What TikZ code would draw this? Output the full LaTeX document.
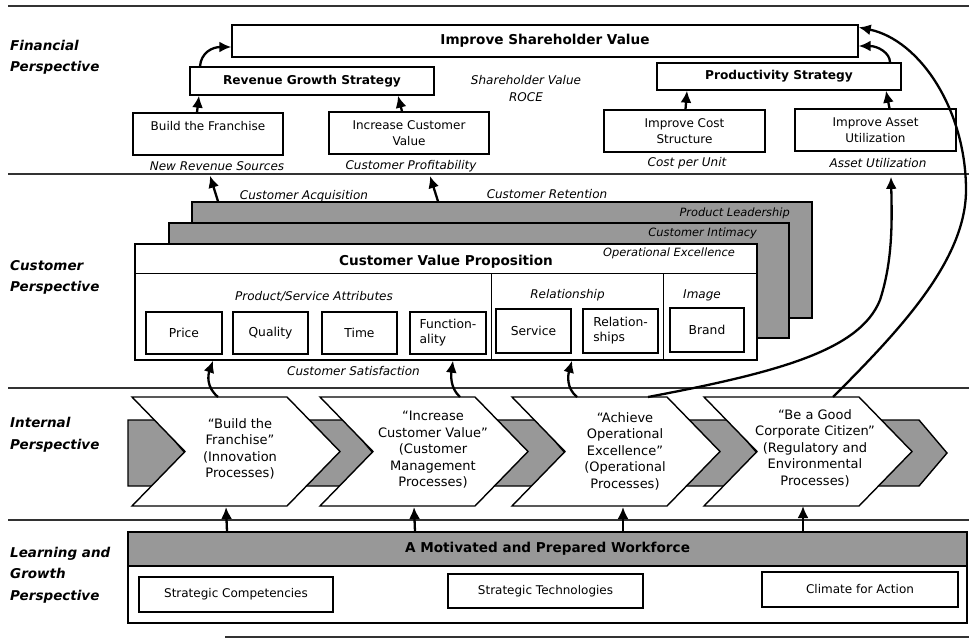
\documentclass[tikz,border=0pt]{standalone}
\usepackage{fontspec}
\setmainfont{DejaVu Sans}
\usetikzlibrary{arrows.meta,calc}
\definecolor{panelgray}{RGB}{152,152,152}
\definecolor{rulegray}{RGB}{50,50,50}
\tikzset{
  box/.style={draw=black, line width=1.4pt, fill=white, inner sep=0pt, align=center, font=\fontsize{12}{16}\selectfont},
  sbox/.style={box, font=\fontsize{12.3}{15}\selectfont},
  bbox/.style={box, font=\fontsize{12.2}{14.5}\selectfont\bfseries},
  title/.style={inner sep=0pt, font=\fontsize{13.6}{16}\selectfont\bfseries},
  lbl/.style={inner sep=0pt, align=center, font=\fontsize{12}{17}\selectfont\itshape},
  slbl/.style={inner sep=0pt, font=\fontsize{11.4}{14}\selectfont\itshape},
  side/.style={inner sep=0pt, anchor=west, align=left, font=\fontsize{13.5}{21.5}\selectfont\bfseries\itshape},
  rule/.style={draw=rulegray, line width=2.2pt},
  arr/.style={line width=2.3pt, -{Latex[length=12pt,width=11pt]}},
  chev/.style={draw=black, line width=1.4pt, fill=white, line join=miter},
  gchev/.style={draw=black, line width=1.4pt, fill=panelgray, line join=miter},
  chtext/.style={inner sep=0pt, align=center, font=\fontsize{13}{16.5}\selectfont},
}
\begin{document}
\begin{tikzpicture}[x=1pt,y=-1pt]
\useasboundingbox (0,0) rectangle (969,639);
\fill[white] (0,0) rectangle (969,639);

% perspective rules
\draw[rule] (8,6) -- (969,6);
\draw[rule] (8,174) -- (969,174);
\draw[rule] (8,388) -- (969,388);
\draw[rule] (8,520) -- (969,520);
\draw[rule] (225,637) -- (969,637);

% side labels
\node[side] (finl) at (10,57.5) {Financial\\Perspective};
\node[side] (cusl) at (10,277.5) {Customer\\Perspective};
\node[side] (intl) at (10,435) {Internal\\Perspective};
\node[side] (lgl) at (10,575) {Learning and\\Growth\\Perspective};

% ---------- Financial perspective ----------
\node[box, minimum width=626pt, minimum height=32pt, font=\fontsize{13.6}{16}\selectfont\bfseries] (isv) at (545,41) {Improve Shareholder Value};
\node[bbox, minimum width=244pt, minimum height=28pt] (rgs) at (312,81) {Revenue Growth Strategy};
\node[bbox, minimum width=244pt, minimum height=27pt] (prs) at (779,76.5) {Productivity Strategy};
\node[lbl] (svr) at (526,88.5) {Shareholder Value\\ROCE};
\node[box, minimum width=150pt, minimum height=42pt] (bf) at (208,134) {Build the Franchise\\\mbox{}};
\node[box, minimum width=160pt, minimum height=42pt] (icv) at (409,133) {Increase Customer\\Value};
\node[box, minimum width=161pt, minimum height=42pt] (ics) at (684.5,131) {Improve Cost\\Structure};
\node[box, minimum width=161pt, minimum height=42pt] (iau) at (875.5,130) {Improve Asset\\Utilization};
\node[lbl] (nrs) at (217,166) {New Revenue Sources};
\node[lbl] (cpr) at (411,166) {Customer Profitability};
\node[lbl] (cpu) at (687,163) {Cost per Unit};
\node[lbl] (aut) at (878,163) {Asset Utilization};

\draw[arr] ($(bf.north)+(-11,0)$) -- ($(rgs.south)+(-113,0)$);
\draw[arr] ($(icv.north)+(-7,0)$) -- ($(rgs.south)+(86,0)$);
\draw[arr] ($(rgs.north)+(-112,0)$) .. controls (201,53) and (212,47) .. ($(isv.west)+(0,6)$);
\draw[arr] ($(ics.north)+(1,0)$) -- ($(prs.south)+(-92,0)$);
\draw[arr] ($(iau.north)+(14,0)$) -- ($(prs.south)+(107,0)$);
\draw[arr] ($(prs.north)+(111,0)$) .. controls (890,53) and (878,46) .. ($(isv.east)+(0,5)$);

% ---------- Customer perspective ----------
\node[box, fill=panelgray, minimum width=620pt, minimum height=116pt] (pl) at (502,260) {};
\node[box, fill=panelgray, minimum width=620pt, minimum height=115pt] (ci) at (479,280.5) {};
\node[box, minimum width=622pt, minimum height=116pt] (cvp) at (446,302) {};
\node[slbl, anchor=east] (plt) at (790,213) {Product Leadership};
\node[slbl, anchor=east] (cit) at (757,233) {Customer Intimacy};
\node[slbl, anchor=east] (oet) at (735,253) {Operational Excellence};
\node[title] (cvpt) at (446,262) {Customer Value Proposition};
\draw[line width=1.4pt] ($(cvp.north west)+(0,30)$) -- ($(cvp.north east)+(0,30)$);
\draw[line width=1.4pt] ($(cvp.north west)+(357,30)$) -- ($(cvp.south west)+(357,0)$);
\draw[line width=1.4pt] ($(cvp.north west)+(529,30)$) -- ($(cvp.south west)+(529,0)$);
\node[lbl] (psa) at (314,296) {Product/Service Attributes};
\node[lbl] (rel) at (567.5,295) {Relationship};
\node[lbl] (img) at (702,295) {Image};
\node[sbox, minimum width=76pt, minimum height=42pt] (price) at (184,333) {Price};
\node[sbox, minimum width=75pt, minimum height=42pt] (qual) at (270.5,333) {Quality};
\node[sbox, minimum width=75pt, minimum height=42pt] (time) at (359.5,333) {Time};
\node[sbox, minimum width=76pt, minimum height=42pt, align=left] (func) at (448,333) {Function-\\ality};
\node[sbox, minimum width=75pt, minimum height=44pt] (serv) at (533.5,331) {Service};
\node[sbox, minimum width=75pt, minimum height=44pt, align=left] (relb) at (620.5,331) {Relation-\\ships};
\node[sbox, minimum width=74pt, minimum height=44pt] (brand) at (707,330) {Brand};
\node[lbl] (csat) at (353.5,371) {Customer Satisfaction};
\node[lbl] (cacq) at (304,196) {Customer Acquisition};
\node[lbl] (cret) at (547,194) {Customer Retention};

\draw[arr] ($(pl.north)+(-284,0)$) -- ($(nrs.south)+(-7,5)$);
\draw[arr] ($(pl.north)+(-64,0)$) -- ($(cpr.south)+(19,4)$);

% ---------- Internal perspective ----------
% grey chevrons (behind)
\filldraw[gchev] (128,420) -- (157,420) -- (185,453) -- (157,486) -- (128,486) -- cycle;
\filldraw[gchev] (232,420) -- (345,420) -- (373,453) -- (345,486) -- (232,486) -- (260,453) -- cycle;
\filldraw[gchev] (420,420) -- (537,420) -- (565,453) -- (537,486) -- (420,486) -- (448,453) -- cycle;
\filldraw[gchev] (612,420) -- (729,420) -- (757,453) -- (729,486) -- (612,486) -- (640,453) -- cycle;
\filldraw[gchev] (804,420) -- (919,420) -- (947,453) -- (919,486) -- (804,486) -- (832,453) -- cycle;
% white chevrons
\filldraw[chev] (132,397) -- (287,397) -- (340,451.5) -- (287,506) -- (132,506) -- (185,451.5) -- cycle;
\filldraw[chev] (320,397) -- (475,397) -- (528,451.5) -- (475,506) -- (320,506) -- (373,451.5) -- cycle;
\filldraw[chev] (512,397) -- (667,397) -- (720,451.5) -- (667,506) -- (512,506) -- (565,451.5) -- cycle;
\filldraw[chev] (704,397) -- (859,397) -- (912,451.5) -- (859,506) -- (704,506) -- (757,451.5) -- cycle;
\node[chtext] (ch1) at (240,449) {“Build the\\Franchise”\\(Innovation\\Processes)};
\node[chtext] (ch2) at (433,450) {“Increase\\Customer Value”\\(Customer\\Management\\Processes)};
\node[chtext] (ch3) at (625,451) {“Achieve\\Operational\\Excellence”\\(Operational\\Processes)};
\node[chtext] (ch4) at (815,448) {“Be a Good\\Corporate Citizen”\\(Regulatory and\\Environmental\\Processes)};
\coordinate (c1t) at (218,397);
\coordinate (c2t) at (460,397);
\coordinate (c3t) at (577,397);
\coordinate (c3r) at (648,397);
\coordinate (c4t) at (833,397);
\coordinate (c1b) at (226,507);
\coordinate (c2b) at (414,507);
\coordinate (c3b) at (623,507);
\coordinate (c4b) at (803,506);

\draw[arr] (c1t) .. controls (206,387) and (208,375) .. ($(cvp.south)+(-233,0)$);
\draw[arr] (c2t) .. controls (450,388) and (451,375) .. ($(cvp.south)+(7,0)$);
\draw[arr] (c3t) .. controls (566,388) and (568,375) .. ($(cvp.south)+(126,0)$);
\draw[arr] (c3r) .. controls (780,372) and (860,350) .. (880,300) .. controls (893,260) and (892,220) .. ($(aut.south)+(13,9)$);
\draw[arr] (c4t) .. controls (900,330) and (966,260) .. (966,190) .. controls (966,110) and (920,40) .. ($(isv.north east)+(0,3)$);

% ---------- Learning and growth ----------
\node[box, minimum width=839pt, minimum height=91pt] (lgb) at (547.5,577.5) {};
\node[box, fill=panelgray, minimum width=839pt, minimum height=34pt, font=\fontsize{13.6}{16}\selectfont\bfseries] (wf) at (547.5,549) {A Motivated and Prepared Workforce};
\node[box, minimum width=194pt, minimum height=35pt] (sc) at (236,594.5) {Strategic Competencies};
\node[box, minimum width=195pt, minimum height=34pt] (stc) at (545.5,591) {Strategic Technologies};
\node[box, minimum width=196pt, minimum height=35pt] (cfa) at (860,589.5) {Climate for Action};

\draw[arr] ($(wf.north)+(-320.5,0)$) -- (c1b);
\draw[arr] ($(wf.north)+(-132.5,0)$) -- (c2b);
\draw[arr] ($(wf.north)+(75.5,0)$) -- (c3b);
\draw[arr] ($(wf.north)+(255.5,0)$) -- (c4b);
\end{tikzpicture}
\end{document}
